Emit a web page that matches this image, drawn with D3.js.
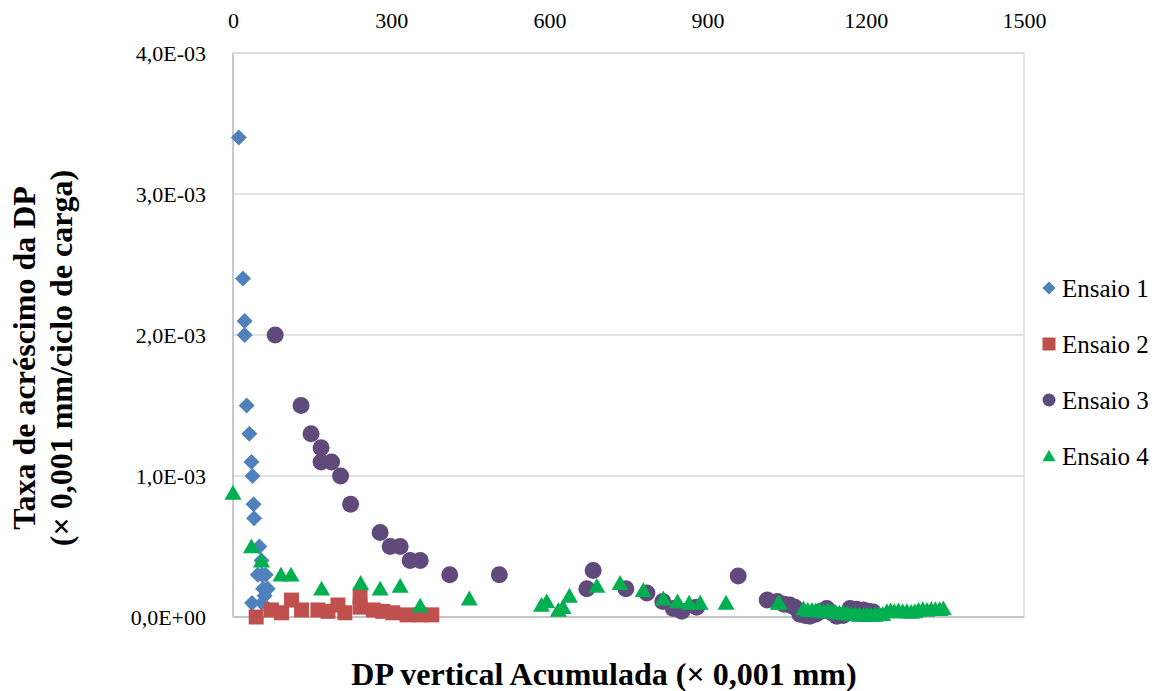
<!DOCTYPE html>
<html>
<head>
<meta charset="utf-8">
<script src="https://cdn.jsdelivr.net/npm/d3@7"></script>
<style>
  body { margin: 0; background: #fff; }
  svg text { font-family: "Liberation Serif", "DejaVu Serif", serif; }
</style>
</head>
<body>
<div id="chart"></div>
<script>
// data: [DP acumulada (0,001 mm), taxa (0,001 mm/ciclo)]
const ensaio1 = [[11,3.4e-3],[19,2.4e-3],[22,2.1e-3],[22,2.0e-3],[26,1.5e-3],[31,1.3e-3],[35,1.1e-3],[37,1.0e-3],
  [39,0.8e-3],[40,0.7e-3],[50,0.5e-3],[54,0.4e-3],[47,0.3e-3],[55,0.3e-3],[62,0.3e-3],[57,0.2e-3],[66,0.2e-3],
  [36,0.1e-3],[55,0.1e-3],[60,0.15e-3]];
const ensaio2 = [[44,0],[73,0.05e-3],[92,0.03e-3],[111,0.12e-3],[130,0.05e-3],[161,0.05e-3],[180,0.04e-3],
  [199,0.085e-3],[212,0.03e-3],[241,0.14e-3],[241,0.07e-3],[266,0.05e-3],[284,0.04e-3],[303,0.03e-3],
  [330,0.015e-3],[355,0.015e-3],[377,0.015e-3]];
const ensaio3 = [[80,2.0e-3],[129,1.5e-3],[148,1.3e-3],[167,1.2e-3],[167,1.1e-3],[187,1.1e-3],[204,1.0e-3],
  [223,0.8e-3],[279,0.6e-3],[298,0.5e-3],[317,0.5e-3],[336,0.4e-3],[355,0.4e-3],[411,0.3e-3],[505,0.3e-3],
  [671,0.2e-3],[683,0.33e-3],[745,0.2e-3],[785,0.17e-3],[815,0.11e-3],[835,0.06e-3],[851,0.04e-3],[879,0.07e-3],
  [958,0.29e-3],[1013,0.12e-3],[1032,0.11e-3],[1045,0.09e-3],[1056,0.085e-3],[1065,0.07e-3],[1075,0.02e-3],
  [1085,0.01e-3],[1094,0.005e-3],[1105,0.02e-3],[1115,0.04e-3],[1126,0.06e-3],[1135,0.03e-3],[1145,0.005e-3],
  [1157,0.01e-3],[1170,0.06e-3],[1182,0.055e-3],[1195,0.05e-3],[1205,0.04e-3],[1214,0.035e-3]];
const ensaio4 = [[0,0.88e-3],[35,0.5e-3],[54,0.4e-3],[91,0.3e-3],[110,0.3e-3],[168,0.2e-3],[242,0.24e-3],
  [279,0.2e-3],[317,0.22e-3],[355,0.08e-3],[448,0.13e-3],[585,0.085e-3],[595,0.11e-3],[617,0.05e-3],
  [626,0.07e-3],[638,0.15e-3],[690,0.22e-3],[734,0.24e-3],[778,0.19e-3],[816,0.13e-3],[843,0.11e-3],
  [865,0.1e-3],[886,0.1e-3],[935,0.1e-3],[1034,0.1e-3],[1036,0.1e-3],
  [1082,0.06e-3],[1090,0.05e-3],[1098,0.05e-3],[1105,0.045e-3],[1112,0.05e-3],[1120,0.04e-3],[1128,0.045e-3],
  [1135,0.04e-3],[1142,0.035e-3],[1150,0.03e-3],[1158,0.03e-3],[1165,0.025e-3],[1172,0.02e-3],[1180,0.02e-3],
  [1188,0.015e-3],[1196,0.015e-3],[1203,0.015e-3],[1210,0.015e-3],[1218,0.015e-3],[1225,0.02e-3],[1232,0.02e-3],
  [1240,0.04e-3],[1247,0.045e-3],[1254,0.04e-3],[1262,0.045e-3],[1270,0.04e-3],[1278,0.04e-3],[1286,0.035e-3],
  [1293,0.04e-3],[1300,0.05e-3],[1308,0.055e-3],[1316,0.05e-3],[1324,0.055e-3],[1332,0.055e-3],[1340,0.055e-3],
  [1347,0.06e-3]];
const xTicks = [0, 300, 600, 900, 1200, 1500];
const yTicks = [0, 1e-3, 2e-3, 3e-3, 4e-3];
const yTickLabels = ["0,0E+00", "1,0E-03", "2,0E-03", "3,0E-03", "4,0E-03"];
const seriesNames = ["Ensaio 1", "Ensaio 2", "Ensaio 3", "Ensaio 4"];

const width = 1164, height = 691;
const plotLeft = 233, plotRight = 1024, plotTop = 53, plotBottom = 617;
const serif = '"Liberation Serif", "DejaVu Serif", serif';

const svg = d3.select("#chart").append("svg")
    .attr("width", width)
    .attr("height", height);

const x = d3.scaleLinear().domain([0, 1500]).range([plotLeft, plotRight]);
const y = d3.scaleLinear().domain([0, 4e-3]).range([plotBottom, plotTop]);

// gridlines
svg.append("g").selectAll("line")
    .data(yTicks)
    .enter().append("line")
    .attr("x1", plotLeft).attr("x2", plotRight)
    .attr("y1", d => y(d)).attr("y2", d => y(d))
    .attr("stroke", "#d9d9d9").attr("stroke-width", 1.3);

// plot border
svg.append("rect")
    .attr("x", plotLeft).attr("y", plotTop)
    .attr("width", plotRight - plotLeft).attr("height", plotBottom - plotTop)
    .attr("fill", "none").attr("stroke", "#d9d9d9").attr("stroke-width", 1.3);
svg.append("line")
    .attr("x1", plotLeft).attr("x2", plotLeft).attr("y1", plotTop).attr("y2", plotBottom)
    .attr("stroke", "#bfbfbf").attr("stroke-width", 1.5);
svg.append("line")
    .attr("x1", plotLeft).attr("x2", plotRight).attr("y1", plotBottom).attr("y2", plotBottom)
    .attr("stroke", "#bfbfbf").attr("stroke-width", 1.5);

// axes (top x, left y)
const xAxis = svg.append("g")
    .attr("transform", `translate(0,${plotTop})`)
    .call(d3.axisTop(x).tickValues(xTicks).tickSize(0).tickPadding(25)
        .tickFormat(d3.format("d")));
const yAxis = svg.append("g")
    .attr("transform", `translate(${plotLeft},0)`)
    .call(d3.axisLeft(y).tickValues(yTicks).tickSize(0).tickPadding(27)
        .tickFormat((d, i) => yTickLabels[i]));
[xAxis, yAxis].forEach(a => {
    a.attr("font-family", serif);
    a.select(".domain").remove();
    a.selectAll("text")
        .attr("font-family", serif)
        .attr("font-size", 22)
        .attr("fill", "#000");
});

// marker shapes
function markerPath(shape, s) {
    const h = s / 2;
    if (shape === "diamond") return `M0,${-h}L${h},0L0,${h}L${-h},0Z`;
    if (shape === "square") return `M${-h},${-h}H${h}V${h}H${-h}Z`;
    if (shape === "circle") return `M${h},0A${h},${h} 0 1,1 ${-h},0A${h},${h} 0 1,1 ${h},0Z`;
    return `M0,${-h * 0.95}L${h},${h * 0.8}L${-h},${h * 0.8}Z`;
}
const series = [
    { data: ensaio1, shape: "diamond", color: "#4f81bd", size: 16 },
    { data: ensaio2, shape: "square", color: "#c0504d", size: 15 },
    { data: ensaio3, shape: "circle", color: "#604a7b", size: 17 },
    { data: ensaio4, shape: "triangle", color: "#00b050", size: 17 }
];

series.forEach(function (s) {
    svg.append("g").selectAll("path")
        .data(s.data)
        .enter().append("path")
        .attr("d", markerPath(s.shape, s.size))
        .attr("transform", d => `translate(${x(d[0])},${y(d[1])})`)
        .attr("fill", s.color);
});

// legend
const legend = svg.append("g");
series.forEach(function (s, i) {
    const ly = 288 + i * 56;
    legend.append("path")
        .attr("d", markerPath(s.shape, 13))
        .attr("transform", `translate(1049,${ly})`)
        .attr("fill", s.color);
    legend.append("text")
        .attr("x", 1062).attr("y", ly)
        .attr("dy", "0.35em")
        .attr("font-family", serif)
        .attr("font-size", 25)
        .attr("fill", "#000")
        .text(seriesNames[i]);
});

// axis titles
svg.append("text")
    .attr("x", 604).attr("y", 685)
    .attr("text-anchor", "middle")
    .attr("font-family", serif)
    .attr("font-size", 32).attr("font-weight", "bold")
    .text("DP vertical Acumulada (× 0,001 mm)");

const yTitle = svg.append("text")
    .attr("transform", "translate(35,358) rotate(-90)")
    .attr("text-anchor", "middle")
    .attr("font-family", serif)
    .attr("font-size", 32).attr("font-weight", "bold");
yTitle.append("tspan").attr("x", 0).attr("dy", 0).text("Taxa de acréscimo da DP");
yTitle.append("tspan").attr("x", 0).attr("dy", 37).text("(× 0,001 mm/ciclo de carga)");
</script>
</body>
</html>
